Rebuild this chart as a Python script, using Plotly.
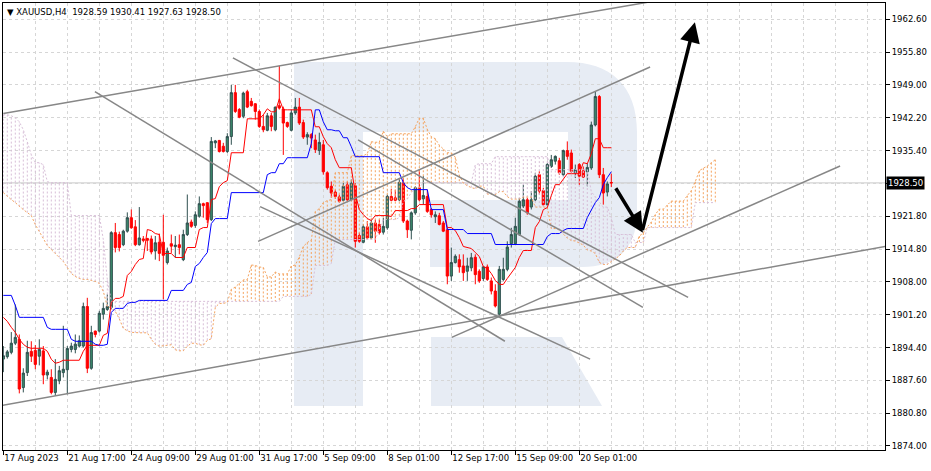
import plotly.graph_objects as go

# ---------------- data ----------------
bars = list(range(153))          # H4 bar index, 0 = 17 Aug 2023 01:00
opens = [1892.0, 1892.5, 1893.4, 1895.3, 1896.1, 1886.1, 1889.2, 1893.6, 1893.8, 1892.6,
         1893.7, 1888.7, 1888.2, 1885.1, 1887.5, 1889.2, 1889.8, 1894.0, 1894.0, 1894.7,
         1894.7, 1902.9, 1890.1, 1897.8, 1897.8, 1901.3, 1902.3, 1902.7, 1918.2, 1917.8,
         1915.7, 1918.5, 1921.3, 1919.4, 1915.7, 1916.9, 1917.0, 1916.9, 1914.4, 1916.2,
         1916.2, 1912.0, 1915.9, 1915.3, 1915.7, 1912.6, 1917.8, 1920.4, 1919.7, 1921.6,
         1924.2, 1924.4, 1920.9, 1936.8, 1937.3, 1936.1, 1935.0, 1938.1, 1947.2, 1943.7,
         1942.3, 1947.4, 1945.4, 1944.9, 1943.3, 1940.2, 1939.4, 1942.4, 1939.5, 1944.5,
         1943.8, 1941.0, 1939.4, 1943.0, 1944.2, 1941.0, 1938.0, 1938.5, 1937.4, 1935.2,
         1936.4, 1930.6, 1927.8, 1926.6, 1925.6, 1924.9, 1928.1, 1925.0, 1927.9, 1917.6,
         1916.2, 1919.4, 1917.1, 1920.2, 1919.9, 1918.3, 1919.2, 1925.7, 1925.4, 1925.0,
         1928.5, 1920.6, 1918.7, 1922.3, 1927.5, 1925.2, 1925.7, 1923.0, 1921.5, 1921.7,
         1920.2, 1918.8, 1909.2, 1912.0, 1912.6, 1911.3, 1910.2, 1910.9, 1913.1, 1910.2,
         1908.7, 1911.1, 1908.2, 1906.1, 1901.3, 1908.5, 1910.6, 1915.9, 1915.9, 1917.8,
         1923.7, 1925.0, 1923.5, 1925.0, 1930.2, 1926.9, 1924.0, 1931.9, 1933.0, 1933.1,
         1930.2, 1935.2, 1934.7, 1930.6, 1932.3, 1931.0, 1930.8, 1931.6, 1940.5, 1946.4,
         1930.2, 1926.6, 1928.59]
highs = [1894.7, 1893.9, 1897.6, 1903.3, 1897.1, 1890.1, 1895.8, 1895.7, 1894.9, 1896.1,
         1894.7, 1889.8, 1889.9, 1892.0, 1890.6, 1898.9, 1894.7, 1895.4, 1897.1, 1896.9,
         1903.7, 1904.7, 1898.9, 1897.9, 1902.0, 1903.7, 1905.4, 1918.5, 1920.2, 1918.4,
         1918.8, 1922.4, 1923.0, 1920.8, 1923.5, 1917.5, 1917.1, 1917.6, 1917.5, 1918.0,
         1921.9, 1915.1, 1917.8, 1917.5, 1917.8, 1918.8, 1926.1, 1920.9, 1922.6, 1925.7,
         1924.4, 1924.5, 1938.0, 1937.4, 1937.4, 1936.8, 1938.8, 1948.8, 1948.8, 1944.0,
         1947.4, 1947.8, 1946.1, 1945.0, 1943.7, 1942.6, 1943.0, 1943.0, 1944.3, 1952.8,
         1944.3, 1941.2, 1943.7, 1946.1, 1946.1, 1941.6, 1939.0, 1938.8, 1938.5, 1938.9,
         1937.4, 1930.9, 1928.8, 1927.1, 1926.1, 1928.5, 1928.8, 1929.2, 1928.5, 1918.2,
         1919.9, 1920.6, 1920.9, 1920.9, 1920.9, 1921.3, 1926.1, 1927.3, 1927.1, 1929.5,
         1929.5, 1920.9, 1922.6, 1927.8, 1931.2, 1929.9, 1927.1, 1923.3, 1922.6, 1922.3,
         1920.6, 1919.2, 1915.1, 1913.7, 1913.7, 1913.7, 1913.0, 1914.0, 1913.7, 1910.6,
         1911.3, 1911.6, 1908.9, 1907.5, 1911.3, 1913.0, 1916.4, 1919.2, 1921.3, 1925.4,
         1928.1, 1925.4, 1926.8, 1930.6, 1930.9, 1927.5, 1932.6, 1934.3, 1934.2, 1933.7,
         1935.4, 1937.1, 1935.4, 1932.3, 1932.6, 1931.9, 1932.6, 1941.2, 1947.4, 1946.7,
         1931.6, 1928.8, 1930.41]
lows = [1889.3, 1892.1, 1893.0, 1894.9, 1884.9, 1885.1, 1888.5, 1891.4, 1889.9, 1890.7,
        1886.8, 1887.8, 1884.7, 1884.4, 1886.8, 1888.2, 1884.7, 1893.4, 1893.2, 1894.4,
        1894.4, 1889.1, 1889.8, 1896.5, 1897.5, 1900.2, 1902.0, 1902.3, 1914.1, 1914.3,
        1915.4, 1918.2, 1919.0, 1915.4, 1915.5, 1916.2, 1914.4, 1913.7, 1912.6, 1912.3,
        1904.4, 1911.6, 1914.0, 1913.0, 1913.7, 1912.3, 1917.5, 1919.2, 1919.2, 1921.3,
        1921.3, 1920.2, 1920.6, 1935.7, 1934.8, 1934.8, 1934.7, 1936.4, 1943.0, 1941.9,
        1941.9, 1944.0, 1944.3, 1941.6, 1939.9, 1939.0, 1939.2, 1939.2, 1939.2, 1943.7,
        1934.3, 1939.9, 1939.2, 1942.6, 1940.5, 1937.6, 1936.4, 1935.7, 1934.7, 1934.3,
        1930.2, 1927.1, 1925.4, 1925.2, 1924.4, 1924.7, 1924.7, 1924.7, 1915.1, 1916.1,
        1916.0, 1916.8, 1916.8, 1916.1, 1917.8, 1917.8, 1918.8, 1924.7, 1924.7, 1924.7,
        1920.2, 1917.1, 1916.8, 1921.9, 1924.7, 1924.0, 1922.3, 1921.3, 1920.2, 1919.7,
        1918.3, 1907.5, 1908.2, 1911.8, 1909.9, 1908.2, 1908.2, 1910.2, 1907.5, 1907.8,
        1908.2, 1908.2, 1905.4, 1902.7, 1900.9, 1908.2, 1910.2, 1915.1, 1915.7, 1917.5,
        1923.3, 1921.9, 1923.0, 1924.7, 1926.1, 1923.7, 1923.7, 1931.6, 1932.3, 1930.2,
        1929.9, 1933.3, 1930.6, 1929.5, 1928.1, 1929.5, 1927.8, 1931.2, 1940.2, 1929.5,
        1924.0, 1925.7, 1927.63]
closes = [1892.7, 1893.5, 1895.3, 1896.5, 1885.8, 1889.1, 1893.4, 1892.6, 1890.9, 1894.0,
          1888.7, 1889.3, 1885.1, 1887.8, 1889.6, 1889.9, 1894.2, 1894.7, 1895.1, 1895.8,
          1902.9, 1890.1, 1897.5, 1897.1, 1901.5, 1902.5, 1902.9, 1918.2, 1915.1, 1915.1,
          1918.5, 1921.3, 1919.2, 1915.7, 1917.1, 1916.6, 1916.6, 1914.2, 1916.1, 1913.9,
          1913.5, 1914.4, 1915.4, 1915.6, 1915.1, 1917.8, 1920.2, 1919.5, 1921.9, 1924.2,
          1923.8, 1920.9, 1937.1, 1937.2, 1935.0, 1935.0, 1938.1, 1947.2, 1943.3, 1942.1,
          1947.1, 1944.2, 1944.5, 1943.3, 1940.2, 1939.5, 1942.4, 1940.2, 1944.2, 1944.0,
          1940.9, 1940.2, 1943.0, 1944.2, 1940.9, 1938.0, 1938.5, 1937.8, 1935.4, 1936.9,
          1930.8, 1927.5, 1926.4, 1925.7, 1924.7, 1927.8, 1925.0, 1928.4, 1916.4, 1916.4,
          1919.4, 1917.1, 1920.2, 1918.5, 1918.2, 1919.5, 1925.7, 1924.9, 1924.9, 1928.6,
          1920.6, 1918.8, 1922.3, 1927.5, 1925.0, 1925.9, 1922.6, 1921.9, 1921.9, 1919.9,
          1918.5, 1909.2, 1912.0, 1913.3, 1911.1, 1909.9, 1911.3, 1913.0, 1909.5, 1908.2,
          1911.1, 1908.5, 1906.1, 1903.0, 1910.6, 1910.6, 1915.2, 1917.8, 1919.5, 1924.7,
          1925.0, 1922.3, 1925.0, 1929.9, 1926.8, 1924.0, 1932.3, 1933.3, 1934.0, 1930.6,
          1935.2, 1934.0, 1930.9, 1931.2, 1929.9, 1929.7, 1931.7, 1940.5, 1946.4, 1930.2,
          1926.4, 1928.3, 1928.50]

tenkan = [1900.65, 1899.82, 1898.58, 1897.55, 1896.10, 1895.07, 1894.45, 1894.24, 1894.24, 1894.24,
          1894.24, 1893.62, 1891.97, 1891.14, 1891.35, 1891.76, 1891.76, 1891.76, 1891.76, 1891.76,
          1893.62, 1894.86, 1894.86, 1894.86, 1894.86, 1896.93, 1897.34, 1903.75, 1904.58, 1904.58,
          1904.99, 1909.33, 1910.16, 1911.60, 1912.64, 1912.84, 1918.84, 1918.63, 1918.01, 1917.81,
          1913.88, 1913.88, 1913.88, 1913.05, 1913.05, 1913.05, 1915.12, 1915.12, 1915.12, 1918.84,
          1919.25, 1919.25, 1925.04, 1925.25, 1927.73, 1928.55, 1928.97, 1934.75, 1934.75, 1934.75,
          1934.75, 1941.78, 1941.78, 1941.78, 1941.78, 1942.61, 1943.85, 1943.23, 1943.23, 1945.92,
          1943.64, 1943.64, 1943.64, 1943.64, 1943.64, 1943.64, 1943.64, 1943.64, 1940.13, 1940.13,
          1938.06, 1936.62, 1935.79, 1933.31, 1931.65, 1931.65, 1931.65, 1931.65, 1926.28, 1922.97,
          1921.94, 1921.11, 1920.70, 1921.73, 1921.73, 1921.73, 1921.73, 1921.53, 1922.77, 1922.77,
          1922.77, 1922.77, 1923.18, 1923.18, 1924.01, 1924.01, 1924.01, 1924.01, 1924.01, 1924.01,
          1924.01, 1919.25, 1919.25, 1918.63, 1917.19, 1915.33, 1915.12, 1914.91, 1914.08, 1913.26,
          1911.19, 1910.78, 1909.74, 1908.30, 1907.47, 1907.47, 1908.71, 1909.95, 1910.98, 1913.05,
          1914.50, 1914.50, 1914.50, 1919.25, 1920.49, 1922.97, 1923.39, 1925.87, 1928.14, 1928.14,
          1929.17, 1930.41, 1930.41, 1930.41, 1930.41, 1932.69, 1932.48, 1934.55, 1937.65, 1937.65,
          1935.79, 1935.79, 1935.79]
kijun = [1905.20, 1905.20, 1905.20, 1903.13, 1900.65, 1900.65, 1900.65, 1900.65, 1900.65, 1900.65,
         1900.65, 1898.58, 1898.17, 1898.17, 1898.17, 1898.17, 1898.17, 1896.10, 1895.69, 1895.69,
         1895.69, 1895.69, 1895.69, 1895.07, 1894.86, 1894.86, 1895.07, 1901.68, 1902.51, 1902.51,
         1902.51, 1903.54, 1903.75, 1903.75, 1904.16, 1904.16, 1904.16, 1904.16, 1904.16, 1904.16,
         1904.16, 1904.16, 1906.23, 1906.23, 1906.23, 1906.23, 1907.47, 1907.88, 1911.19, 1911.81,
         1913.05, 1914.08, 1920.08, 1921.11, 1921.11, 1921.11, 1921.11, 1926.49, 1926.49, 1926.49,
         1926.49, 1926.49, 1926.49, 1926.49, 1926.49, 1926.49, 1930.21, 1930.62, 1930.62, 1932.48,
         1932.48, 1933.72, 1933.72, 1933.72, 1933.72, 1933.72, 1933.72, 1936.62, 1943.64, 1943.64,
         1941.16, 1939.51, 1939.51, 1939.30, 1939.30, 1937.86, 1937.86, 1936.00, 1933.93, 1933.93,
         1933.93, 1933.93, 1933.93, 1933.93, 1933.93, 1930.62, 1930.62, 1930.62, 1930.62, 1930.62,
         1928.55, 1927.52, 1927.11, 1927.11, 1927.11, 1927.11, 1927.11, 1922.97, 1922.97, 1922.97,
         1922.97, 1918.84, 1918.84, 1918.84, 1918.84, 1918.84, 1918.01, 1918.01, 1918.01, 1918.01,
         1918.01, 1918.01, 1918.01, 1915.74, 1915.74, 1915.74, 1915.74, 1915.74, 1915.74, 1915.74,
         1915.74, 1915.74, 1915.74, 1915.74, 1915.74, 1915.74, 1917.39, 1918.01, 1918.01, 1918.01,
         1918.63, 1919.05, 1919.05, 1919.05, 1919.05, 1919.05, 1921.32, 1922.97, 1924.42, 1925.45,
         1928.14, 1929.59, 1930.83]
# Senkou spans as plotted (already 26 bars ahead), bar 0 .. 178
span_a = [1926.49, 1925.66, 1925.04, 1924.42, 1923.59, 1922.97, 1922.35, 1921.73, 1919.87, 1918.43,
          1917.19, 1915.53, 1914.70, 1913.88, 1913.05, 1912.22, 1910.98, 1909.74, 1909.12, 1908.71,
          1908.50, 1908.50, 1908.30, 1908.09, 1907.68, 1906.02,
          1902.92, 1902.51, 1901.89, 1900.34, 1898.38, 1897.86, 1897.55, 1897.45, 1897.45, 1897.45,
          1897.45, 1896.10, 1895.07, 1894.66, 1894.76, 1894.97, 1894.97, 1893.93, 1893.72, 1893.72,
          1894.66, 1895.28, 1895.28, 1894.97, 1894.86, 1895.90, 1896.21, 1902.72, 1903.54, 1903.54,
          1903.75, 1906.44, 1906.95, 1907.68, 1908.40, 1908.50, 1911.50, 1911.40, 1911.09, 1910.98,
          1909.02, 1909.02, 1910.05, 1909.64, 1909.64, 1909.64, 1911.29, 1911.50, 1913.15, 1915.33,
          1916.15, 1916.67, 1922.56, 1923.18, 1924.42, 1924.83, 1925.04, 1930.62, 1930.62, 1930.62,
          1930.62, 1934.13, 1934.13, 1934.13, 1934.13, 1934.55, 1937.03, 1936.93, 1936.93, 1939.20,
          1938.06, 1938.68, 1938.68, 1938.68, 1938.68, 1938.68, 1938.68, 1940.13, 1941.89, 1941.89,
          1939.61, 1938.06, 1937.65, 1936.31, 1935.48, 1934.75, 1934.75, 1933.82, 1930.10, 1928.45,
          1927.93, 1927.52, 1927.31, 1927.83, 1927.83, 1926.18, 1926.18, 1926.07, 1926.69, 1926.69,
          1925.66, 1925.14, 1925.14, 1925.14, 1925.56, 1925.56, 1925.56, 1923.49, 1923.49, 1923.49,
          1923.49, 1919.05, 1919.05, 1918.74, 1918.01, 1917.08, 1916.57, 1916.46, 1916.05, 1915.63,
          1914.60, 1914.39, 1913.88, 1912.02, 1911.60, 1911.60, 1912.22, 1912.84, 1913.36, 1914.39,
          1915.12, 1915.12, 1915.12, 1917.50, 1918.12, 1919.36, 1920.39, 1921.94, 1923.08, 1923.08,
          1923.90, 1924.73, 1924.73, 1924.73, 1924.73, 1925.87, 1926.90, 1928.76, 1931.03, 1931.55,
          1931.96, 1932.69, 1933.31]
span_b = [1942.61, 1942.61, 1942.40, 1941.99, 1941.16, 1939.51, 1937.03, 1934.34, 1932.69, 1932.69,
          1932.27, 1928.76, 1928.55, 1928.55, 1928.55, 1928.55, 1928.55, 1921.73, 1921.73, 1921.73,
          1921.73, 1921.73, 1921.73, 1921.73, 1921.73, 1916.77, 1908.50, 1903.96, 1903.96, 1903.96,
          1903.96, 1903.96, 1903.96, 1903.96, 1903.96, 1903.96, 1903.96, 1903.96, 1903.96, 1903.96,
          1903.96, 1903.96, 1903.96, 1903.96, 1903.96, 1903.96, 1903.96, 1903.96, 1903.96, 1903.96,
          1903.96, 1903.96, 1903.96, 1903.96, 1903.96, 1903.96, 1903.96, 1903.96, 1903.96, 1903.96,
          1903.96, 1903.96, 1903.96, 1903.96, 1903.96, 1903.96, 1903.96, 1903.96, 1903.96, 1903.96,
          1904.99, 1904.99, 1904.99, 1904.99, 1904.99, 1904.99, 1904.99, 1905.40, 1911.40, 1911.40,
          1911.40, 1911.40, 1911.81, 1916.77, 1916.77, 1916.77, 1916.77, 1916.77, 1916.77, 1916.77,
          1916.77, 1916.77, 1916.77, 1916.77, 1918.94, 1920.91, 1920.91, 1920.91, 1920.91, 1921.32,
          1924.63, 1925.14, 1926.49, 1927.31, 1927.52, 1928.55, 1928.55, 1928.55, 1928.55, 1928.55,
          1928.55, 1928.55, 1928.55, 1928.55, 1928.55, 1928.55, 1928.55, 1928.55, 1932.27, 1932.48,
          1932.48, 1932.48, 1932.48, 1933.93, 1933.93, 1933.93, 1933.93, 1933.93, 1933.93, 1933.93,
          1933.93, 1933.93, 1933.93, 1933.93, 1933.93, 1933.93, 1933.93, 1931.24, 1931.24, 1931.24,
          1931.24, 1931.24, 1931.24, 1931.24, 1931.24, 1931.24, 1931.24, 1926.69, 1925.66, 1924.42,
          1923.49, 1923.49, 1921.32, 1917.81, 1917.81, 1917.81, 1917.81, 1917.81, 1916.15, 1916.15,
          1916.15, 1919.25, 1919.25, 1919.25, 1919.25, 1919.25, 1919.25, 1919.25, 1919.25, 1919.25,
          1919.25, 1919.25, 1919.25, 1924.42, 1924.42, 1924.42, 1924.42, 1924.42, 1924.42]

tick_bars = [0, 16, 32, 48, 64, 80, 96, 112, 128, 144]
tick_labels = ["17 Aug 2023", "21 Aug 17:00", "24 Aug 09:00", "29 Aug 01:00", "31 Aug 17:00",
               "5 Sep 09:00", "8 Sep 01:00", "12 Sep 17:00", "15 Sep 09:00", "20 Sep 01:00"]
# price grid every 6.8; labels as printed on the chart (the 9th is hidden by the price box)
price_ticks = [1874.0, 1880.8, 1887.6, 1894.4, 1901.2, 1908.0, 1914.8,
               1921.6, 1928.4, 1935.2, 1942.0, 1948.8, 1955.6, 1962.4]
price_labels = ["1874.00", "1880.80", "1887.60", "1894.40", "1901.20", "1908.00", "1914.80",
                "1921.80", "", "1935.40", "1942.20", "1949.00", "1955.80", "1962.60"]

# analyst trend lines: (bar0, price0, bar1, price1)
trend_lines = [
    (0.0, 1942.9, 170.0, 1967.2),
    (-1.0, 1882.3, 225.0, 1916.0),
    (63.7, 1916.4, 161.7, 1952.5),
    (112.1, 1896.5, 209.2, 1932.0),
    (22.9, 1947.4, 125.4, 1895.7),
    (57.4, 1954.4, 171.2, 1904.8),
    (64.2, 1923.6, 146.7, 1892.0),
    (88.7, 1937.4, 159.9, 1902.7),
]
# forecast arrows: (tail bar, tail price, head bar, head price)
arrows = [
    (152.9, 1927.7, 159.9, 1918.2),
    (159.7, 1918.4, 172.9, 1961.8),
]
symbol = "XAUUSD,H4"

# ---------------- figure ----------------
W, H = 931, 471
ML, MR, MT, MB = 3, 46, 3, 21
FONT = "DejaVu Sans"
GRID = "#D6D6D6"
X_RANGE = [-0.075, 220.425]
THISTLE, SANDY = "#D8BFD8", "#F4A460"

fig = go.Figure()

# cloud hatching
n_span = len(span_a)
for color, bull in ((THISTLE, False), (SANDY, True)):
    xs, ys = [], []
    for i in range(n_span):
        a, b = span_a[i], span_b[i]
        if (a >= b) == bull:
            xs += [i, i, None]
            ys += [a, b, None]
    fig.add_trace(go.Scatter(x=xs, y=ys, mode="lines", hoverinfo="skip",
                             line=dict(color=color, width=1, dash="2px,2px")))

fig.add_trace(go.Scatter(x=list(range(n_span)), y=span_b, mode="lines", hoverinfo="skip",
                         line=dict(color=THISTLE, width=1, dash="2px,2px")))
fig.add_trace(go.Scatter(x=list(range(n_span)), y=span_a, mode="lines", hoverinfo="skip",
                         line=dict(color=SANDY, width=1, dash="2px,2px")))

fig.add_trace(go.Candlestick(
    x=bars, open=opens, high=highs, low=lows, close=closes,
    increasing=dict(line=dict(color="#2F4F4F", width=1), fillcolor="#3B8B6B"),
    decreasing=dict(line=dict(color="#FF0000", width=1), fillcolor="#FF0000"),
    whiskerwidth=0, hoverinfo="skip"))

fig.add_trace(go.Scatter(x=bars, y=tenkan, mode="lines", line=dict(color="#FF0000", width=1),
                         hoverinfo="skip"))
fig.add_trace(go.Scatter(x=bars, y=kijun, mode="lines", line=dict(color="#0000FF", width=1),
                         hoverinfo="skip"))

for x0, y0, x1, y1 in trend_lines:
    fig.add_trace(go.Scatter(x=[x0, x1], y=[y0, y1], mode="lines", hoverinfo="skip",
                             line=dict(color="#878787", width=1.5)))

# watermark logo (decoration, paper coords from pixel positions)
pw, ph = W - ML - MR, H - MT - MB


def px(x):
    return (x - ML) / pw


def py(y):
    return (H - MB - y) / ph


def pt(x, y):
    return f"{px(x):.5f},{py(y):.5f}"


bowl = ("M " + pt(294, 62) + " L " + pt(567, 62) + " C " + pt(610, 62) + " " + pt(637, 85) + " " + pt(637, 132)
        + " L " + pt(637, 212) + " C " + pt(637, 250) + " " + pt(615, 267) + " " + pt(582, 267)
        + " L " + pt(430, 267) + " L " + pt(430, 200) + " L " + pt(568, 200) + " L " + pt(568, 132)
        + " L " + pt(363, 132) + " L " + pt(363, 406) + " L " + pt(294, 406) + " Z")
leg = "M " + pt(431, 337) + " L " + pt(562, 337) + " L " + pt(602, 406) + " L " + pt(431, 406) + " Z"
shapes = []
for path in (bowl, leg):
    shapes.append(dict(type="path", path=path, xref="paper", yref="paper", layer="below",
                       fillcolor="#E7ECF4", line=dict(width=0)))

# current price line
shapes.append(dict(type="line", xref="paper", x0=0, x1=1, yref="y", y0=closes[-1], y1=closes[-1],
                   line=dict(color="#C8C8C8", width=1), layer="below"))

annotations = []
for tx, ty, hx, hy in arrows:
    annotations.append(dict(x=hx, y=hy, ax=tx, ay=ty, xref="x", yref="y", axref="x", ayref="y",
                            showarrow=True, arrowhead=2, arrowsize=1.15, arrowwidth=3.5,
                            arrowcolor="#000000", standoff=0, text=""))

annotations.append(dict(
    x=0, y=1, xref="paper", yref="paper", xanchor="left", yanchor="top", xshift=2, yshift=-2,
    showarrow=False, align="left",
    text=f"\u25BC {symbol}  {opens[-1]:.2f} {highs[-1]:.2f} {lows[-1]:.2f} {closes[-1]:.2f}",
    font=dict(family=FONT, size=8.5, color="#000000")))
annotations.append(dict(
    x=1, y=closes[-1], xref="paper", yref="y", xanchor="left", yanchor="middle", xshift=1,
    showarrow=False, text=f"{closes[-1]:.2f}", bgcolor="#000000", borderpad=1,
    font=dict(family=FONT, size=8.5, color="#FFFFFF")))

fig.update_layout(
    width=W, height=H, margin=dict(l=ML, r=MR, t=MT, b=MB, autoexpand=False),
    paper_bgcolor="#FFFFFF", plot_bgcolor="#FFFFFF", showlegend=False, boxgap=0.22,
    font=dict(family=FONT, size=8.5, color="#000000"),
    shapes=shapes, annotations=annotations,
    xaxis=dict(range=X_RANGE, tickmode="array", tickvals=tick_bars, ticktext=tick_labels,
               tickangle=0, automargin=False,
               ticks="outside", ticklen=4, tickcolor="#000000", ticklabelposition="outside right",
               showline=True, linecolor="#000000", linewidth=1, mirror=True,
               showgrid=True, gridcolor=GRID, griddash="3px,3px", zeroline=False,
               minor=dict(tickmode="linear", tick0=0, dtick=8, showgrid=True, gridcolor=GRID,
                          griddash="3px,3px", ticks=""),
               rangeslider=dict(visible=False), fixedrange=True),
    yaxis=dict(range=[1873.17, 1965.77], side="right", tickmode="array", tickvals=price_ticks,
               ticktext=price_labels, ticks="outside", ticklen=4, automargin=False,
               tickcolor="#000000", showline=True, linecolor="#000000", linewidth=1, mirror=True,
               showgrid=True, gridcolor=GRID, griddash="3px,3px", zeroline=False, fixedrange=True),
)

fig.write_html("out.html", config={"displayModeBar": False},
               post_script="document.body.style.margin='0';document.body.style.overflow='hidden';")
